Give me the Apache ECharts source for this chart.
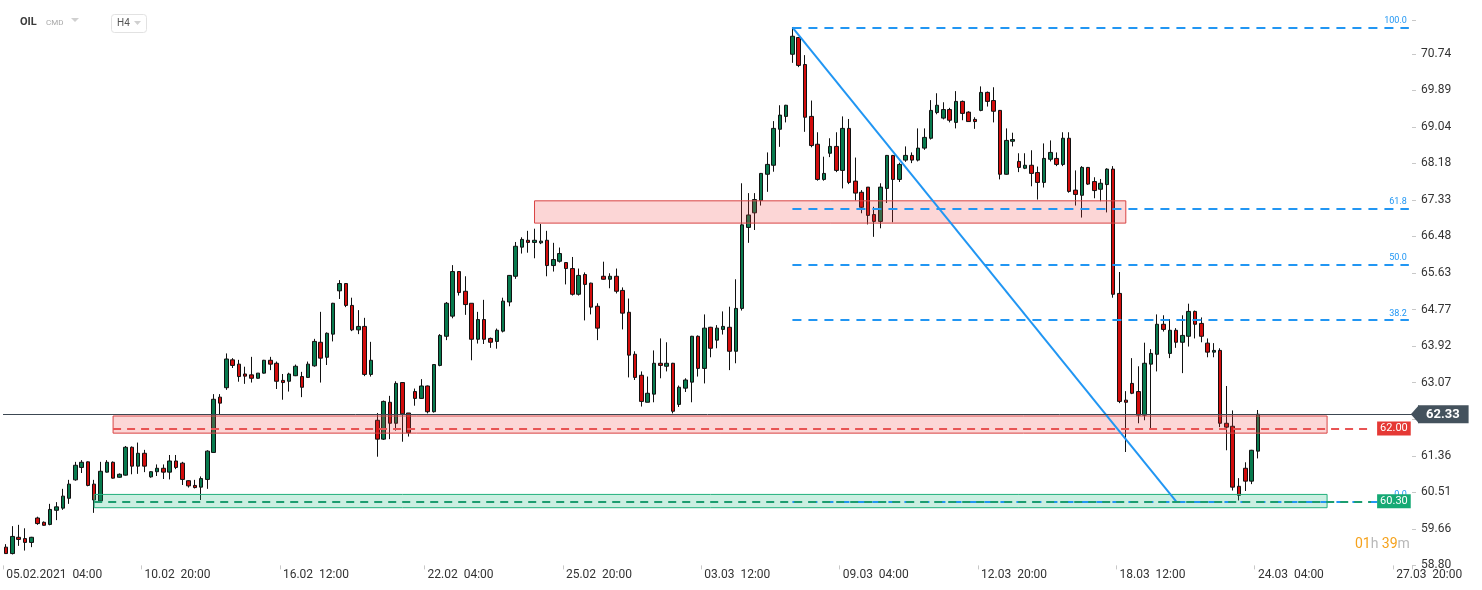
<!DOCTYPE html>
<html>
<head>
<meta charset="utf-8">
<title>OIL H4</title>
<script src="https://cdn.jsdelivr.net/npm/echarts@6/dist/echarts.min.js"></script>
<style>
  html, body { margin: 0; padding: 0; background: #fff; }
  #chart { width: 1482px; height: 590px; }
</style>
</head>
<body>
<div id="chart"></div>
<script>
// H4 candles, 05.02.2021 04:00 .. 24.03.2021 04:00
const opens = [
  59.23, 59.08, 59.46, 59.43, 59.34, 59.91, 59.81, 59.76, 60.09, 60.14,
  60.37, 60.80, 61.09, 61.22, 60.70, 60.31, 60.98, 61.21, 60.86, 60.91,
  61.56, 61.12, 61.42, 60.87, 60.99, 61.07, 60.98, 61.24, 61.19, 60.78,
  60.67, 60.63, 60.81, 61.44, 62.73, 62.95, 63.60, 63.50, 63.27, 63.25,
  63.17, 63.29, 63.59, 63.52, 63.12, 63.10, 63.23, 63.21, 63.19, 63.46,
  64.01, 63.66, 64.20, 65.21, 65.38, 64.87, 64.30, 64.38, 63.26, 62.19,
  61.75, 62.61, 62.12, 63.07, 62.36, 62.86, 62.70, 62.99, 62.39, 63.47,
  64.15, 64.62, 65.66, 65.20, 64.92, 64.08, 64.54, 64.10, 64.03, 64.27,
  64.95, 65.55, 66.23, 66.39, 66.34, 66.33, 66.39, 65.80, 65.90, 65.87,
  65.73, 65.13, 65.59, 65.39, 64.85, 65.55, 65.48, 65.55, 65.22, 64.71,
  63.73, 63.24, 62.61, 62.80, 63.52, 63.45, 63.52, 62.56, 62.94, 63.08,
  64.15, 63.40, 64.36, 64.06, 64.31, 64.36, 63.80, 64.80, 66.69, 67.03,
  67.32, 67.93, 68.14, 68.98, 69.28, 70.73, 71.12, 70.49, 69.28, 68.63,
  67.81, 68.42, 68.58, 68.02, 69.00, 67.77, 67.51, 67.63, 66.99, 66.83,
  67.60, 68.37, 67.81, 68.26, 68.37, 68.26, 68.54, 68.77, 69.37, 69.24,
  69.44, 69.14, 69.63, 69.38, 69.21, 69.42, 69.84, 69.65, 69.42, 67.93,
  68.70, 68.23, 68.07, 68.14, 67.97, 67.74, 68.28, 68.30, 68.16, 68.77,
  67.56, 67.44, 68.09, 67.76, 67.58, 67.69, 68.05, 65.15, 62.66, 63.05,
  62.86, 62.31, 63.50, 63.73, 64.43, 63.75, 64.29, 64.01, 64.15, 64.73,
  64.45, 63.99, 63.78, 63.82, 62.12, 62.05, 60.65, 61.07, 60.77, 61.47
];
const closes = [
  59.08, 59.48, 59.41, 59.34, 59.46, 59.78, 59.74, 60.11, 60.17, 60.42,
  60.70, 61.14, 61.21, 60.67, 60.33, 61.00, 61.21, 60.84, 60.93, 61.56,
  61.12, 61.42, 61.12, 60.99, 61.07, 60.98, 61.24, 61.09, 60.81, 60.66,
  60.62, 60.83, 61.47, 62.68, 62.59, 63.62, 63.47, 63.21, 63.22, 63.17,
  63.29, 63.59, 63.50, 63.10, 63.07, 63.27, 63.45, 62.96, 63.50, 64.03,
  63.64, 64.22, 64.92, 65.38, 64.87, 64.30, 64.38, 63.26, 63.59, 61.75,
  62.63, 62.12, 63.05, 62.34, 61.90, 62.70, 62.99, 62.39, 63.49, 64.17,
  64.92, 65.66, 65.17, 64.89, 64.08, 64.54, 64.08, 64.01, 64.29, 64.97,
  65.57, 66.25, 66.41, 66.34, 66.39, 66.37, 65.80, 65.94, 66.08, 65.73,
  65.13, 65.57, 65.36, 64.83, 64.34, 65.48, 65.55, 65.20, 64.69, 63.71,
  63.19, 62.63, 62.82, 63.52, 63.47, 63.52, 62.40, 62.96, 63.13, 64.15,
  63.40, 64.34, 63.87, 64.34, 64.38, 63.80, 64.80, 66.75, 66.98, 67.34,
  67.95, 68.16, 69.00, 69.31, 69.54, 71.15, 70.47, 69.26, 68.60, 67.81,
  67.95, 68.58, 68.02, 69.00, 67.74, 67.49, 67.16, 66.97, 66.83, 67.63,
  68.37, 67.81, 68.16, 68.37, 68.26, 68.54, 68.79, 69.42, 69.54, 69.44,
  69.19, 69.63, 69.35, 69.16, 69.16, 69.84, 69.63, 69.40, 67.93, 68.72,
  68.74, 68.09, 68.14, 67.95, 67.74, 68.30, 68.44, 68.16, 68.77, 67.53,
  67.46, 68.09, 67.70, 67.55, 67.72, 68.05, 65.13, 62.63, 62.61, 62.82,
  62.31, 63.52, 63.75, 64.43, 64.31, 64.29, 64.01, 64.17, 64.73, 64.43,
  64.15, 63.78, 63.82, 62.12, 62.03, 60.63, 60.44, 60.77, 61.49, 62.33
];
const lows = [
  59.08, 59.06, 59.26, 59.15, 59.23, 59.75, 59.73, 59.74, 59.86, 60.10,
  60.24, 60.78, 60.96, 60.65, 60.03, 60.30, 60.97, 60.83, 60.85, 60.90,
  60.93, 60.94, 60.98, 60.85, 60.89, 60.82, 60.81, 61.05, 60.68, 60.62,
  60.60, 60.33, 60.59, 61.44, 62.32, 62.90, 63.41, 63.09, 63.04, 63.07,
  63.16, 63.28, 63.36, 62.92, 62.67, 62.86, 63.22, 62.73, 63.18, 63.44,
  63.07, 63.48, 64.03, 65.02, 64.83, 64.27, 64.20, 63.22, 63.21, 61.34,
  61.73, 61.75, 61.95, 61.69, 61.81, 62.53, 62.69, 62.35, 62.37, 63.45,
  64.06, 64.57, 65.10, 64.65, 63.59, 63.98, 63.97, 63.88, 63.86, 64.24,
  64.85, 65.49, 66.08, 66.10, 65.97, 66.30, 65.55, 65.66, 65.87, 65.36,
  65.10, 65.10, 64.52, 64.66, 64.06, 65.47, 65.27, 65.15, 64.31, 63.19,
  63.13, 62.51, 62.61, 62.61, 63.17, 63.33, 62.35, 62.50, 62.85, 62.61,
  63.21, 63.05, 63.66, 63.87, 64.19, 63.36, 63.52, 64.75, 66.33, 66.63,
  67.20, 67.52, 67.99, 68.57, 69.14, 70.53, 70.43, 68.92, 68.56, 67.78,
  67.78, 68.33, 67.98, 67.60, 67.70, 67.32, 67.02, 66.76, 66.47, 66.67,
  67.26, 66.81, 67.75, 68.22, 68.19, 68.23, 68.50, 68.74, 69.33, 69.21,
  69.14, 69.00, 69.19, 69.16, 68.99, 69.40, 69.51, 69.14, 67.81, 67.92,
  68.58, 67.98, 68.05, 67.65, 67.34, 67.62, 68.23, 68.12, 68.12, 67.50,
  67.20, 66.92, 67.68, 67.37, 67.30, 67.04, 65.05, 62.59, 61.45, 62.80,
  62.12, 62.19, 61.98, 63.33, 64.26, 63.64, 63.88, 63.29, 63.91, 64.10,
  64.01, 63.66, 63.66, 62.03, 61.49, 60.55, 60.32, 60.54, 60.70, 61.30
];
const highs = [
  59.30, 59.72, 59.75, 59.67, 59.47, 59.94, 59.83, 60.24, 60.28, 60.59,
  60.80, 61.22, 61.26, 61.23, 60.80, 61.22, 61.26, 61.23, 60.95, 61.59,
  61.58, 61.67, 61.50, 61.00, 61.16, 61.16, 61.38, 61.38, 61.22, 60.79,
  60.80, 60.88, 61.49, 62.80, 62.80, 63.75, 63.64, 63.60, 63.44, 63.67,
  63.29, 63.60, 63.67, 63.56, 63.27, 63.30, 63.49, 63.32, 63.56, 64.09,
  64.72, 64.24, 64.93, 65.46, 65.39, 65.05, 64.76, 64.58, 64.02, 62.36,
  62.65, 62.76, 63.10, 63.08, 62.36, 62.93, 63.15, 63.00, 63.50, 64.20,
  64.95, 65.81, 65.67, 65.55, 64.92, 64.72, 65.00, 64.12, 64.33, 65.05,
  65.58, 66.35, 66.46, 66.61, 66.66, 66.77, 66.61, 66.33, 66.22, 65.87,
  66.00, 65.73, 65.64, 65.40, 64.92, 65.89, 65.62, 65.73, 65.29, 65.03,
  63.80, 63.33, 63.21, 63.82, 64.10, 64.01, 63.53, 63.00, 63.17, 64.16,
  64.17, 64.66, 64.37, 64.41, 64.73, 64.84, 65.48, 67.72, 67.49, 67.49,
  67.96, 68.44, 69.17, 69.54, 69.55, 71.36, 71.13, 70.71, 69.65, 68.91,
  68.34, 68.77, 68.91, 69.28, 69.22, 68.32, 67.56, 67.63, 67.17, 67.72,
  68.38, 68.38, 68.20, 68.58, 68.44, 69.00, 69.00, 69.66, 69.82, 69.61,
  69.48, 69.87, 69.65, 69.40, 69.26, 69.98, 69.86, 69.96, 69.43, 69.00,
  68.90, 68.42, 68.42, 68.49, 68.11, 68.65, 68.72, 68.44, 68.91, 68.91,
  68.02, 68.12, 68.10, 67.86, 67.82, 68.07, 68.12, 65.65, 62.87, 63.64,
  63.45, 64.00, 63.85, 64.66, 64.64, 64.55, 64.34, 64.64, 64.91, 64.75,
  64.59, 64.10, 63.99, 63.87, 62.99, 62.42, 60.84, 61.21, 61.50, 62.43
];

// x axis: candle slots (incl. empty future ones) and the labelled slots
const slotCount = 224;
const tickIdx = [0, 22, 44, 67, 89, 111, 133, 155, 177, 199, 221];
const tickLabels = ['05.02.2021  04:00', '10.02  20:00', '16.02  12:00', '22.02  04:00', '25.02  20:00',
  '03.03  12:00', '09.03  04:00', '12.03  20:00', '18.03  12:00', '24.03  04:00', '27.03  20:00'];

// y axis scale as shown by the platform
const yMin = 58.804, yMax = 71.52, yStep = 0.8527;

// drawings: zones [fromSlot, toSlot, top, bottom]
const upperZone = [84, 178, 67.31, 66.79];
const midZone = [17, 210, 62.29, 61.89];
const lowZone = [14, 210, 60.46, 60.15];
const midLevel = 62.00;
const lowLevel = 60.30;
const lastPrice = 62.33;
const fibNames = ['100.0', '61.8', '50.0', '38.2', '0.0'];
const fibPrices = [71.36, 67.13, 65.83, 64.53, 60.30];
const fibSlots = [125, 223];
const trendFrom = [125, 71.36];
const trendTo = [186, 60.30];

const chart = echarts.init(document.getElementById('chart'));

const slots = Array.from({ length: slotCount }, (_, i) => String(i));
const candles = opens.map((o, i) => [o, closes[i], lows[i], highs[i]]);

const FIB_BLUE = '#2196f3';

function zone(z, fill, stroke) {
  return [
    { xAxis: z[0], yAxis: z[2], itemStyle: { color: fill, borderColor: stroke, borderWidth: 1 } },
    { xAxis: z[1], yAxis: z[3] }
  ];
}

function boxLabel(text, bg) {
  return {
    show: true, position: 'end', distance: 6, formatter: text,
    backgroundColor: bg, color: '#fff', fontSize: 11, padding: [2, 3, 1, 3]
  };
}

const fibLines = fibPrices.map((p, k) => [
  {
    coord: [fibSlots[0], p],
    lineStyle: { color: FIB_BLUE, width: 2, type: [9, 7] },
    label: {
      show: true, position: 'insideEndTop', formatter: fibNames[k],
      color: FIB_BLUE, fontSize: 9, distance: 2
    }
  },
  { coord: [fibSlots[1], p] }
]);

const option = {
  animation: false,
  backgroundColor: '#fff',
  textStyle: { fontFamily: 'Roboto, sans-serif' },
  grid: { left: 3, right: 70, top: 20.4, bottom: 24.6 },
  xAxis: {
    type: 'category',
    data: slots,
    boundaryGap: true,
    axisLine: { show: false },
    splitLine: { show: false },
    axisTick: {
      show: true, length: 4,
      interval: (i) => tickIdx.includes(i),
      lineStyle: { color: '#c8c8c8' }
    },
    axisLabel: {
      interval: (i) => tickIdx.includes(i),
      formatter: (v, i) => tickLabels[tickIdx.indexOf(Number(v))] || '',
      align: 'left', margin: 4, color: '#333', fontSize: 12
    }
  },
  yAxis: {
    type: 'value',
    position: 'right',
    min: yMin, max: yMax, interval: yStep,
    scale: true,
    splitLine: { show: false },
    axisLine: { show: false },
    axisTick: { show: true, length: 4, lineStyle: { color: '#c8c8c8' } },
    axisLabel: {
      margin: 9, color: '#333', fontSize: 12,
      formatter: (v) => {
        const k = (v - yMin) / yStep;
        if (Math.abs(k - Math.round(k)) > 0.02) return '';
        if (Math.abs(v - lastPrice) < 0.3) return ''; // hidden under price tag
        return v.toFixed(2);
      }
    }
  },
  graphic: [
    { type: 'text', left: 20, top: 17, style: { text: 'OIL', font: 'bold 11px Roboto', fill: '#3b3b3b' } },
    { type: 'text', left: 46, top: 19, style: { text: 'CMD', font: '8px Roboto', fill: '#a8a8a8' } },
    { type: 'polygon', shape: { points: [[71, 18], [79, 18], [75, 22]] }, style: { fill: '#d0d0d0' } },
    { type: 'rect', shape: { x: 111.5, y: 14.5, width: 35, height: 18, r: 3 }, style: { fill: '#fff', stroke: '#e2e2e2' } },
    { type: 'text', left: 117, top: 18, style: { text: 'H4', font: '10px Roboto', fill: '#555' } },
    { type: 'polygon', shape: { points: [[134, 21], [141, 21], [137.5, 25]] }, style: { fill: '#d0d0d0' } },
    {
      type: 'text', left: 1355, top: 537,
      style: {
        text: '{o|01}{g|h} {o|39}{g|m}',
        rich: {
          o: { fontSize: 14, fontFamily: 'Roboto', fill: '#f5a21c', color: '#f5a21c' },
          g: { fontSize: 14, fontFamily: 'Roboto', fill: '#b8b8b8', color: '#b8b8b8' }
        }
      }
    }
  ],
  series: [
    {
      name: 'OIL',
      type: 'candlestick',
      data: candles,
      barWidth: 4,
      z: 2,
      itemStyle: {
        color: '#087a4e', color0: '#d20c0c',
        borderColor: '#111', borderColor0: '#111', borderWidth: 1
      }
    },
    {
      name: 'drawings',
      type: 'line',
      data: [],
      silent: true,
      markArea: {
        z: 4, silent: true,
        data: [
          zone(upperZone, 'rgba(240,60,60,0.21)', '#d94444'),
          zone(midZone, 'rgba(240,60,60,0.21)', '#d94444'),
          zone(lowZone, 'rgba(20,180,120,0.22)', '#22b07d')
        ]
      },
      markLine: {
        z: 6, silent: true,
        symbol: ['none', 'none'],
        label: { show: false },
        data: [
          ...fibLines,
          [
            { coord: trendFrom, lineStyle: { color: FIB_BLUE, width: 2, type: 'solid' }, label: { show: false } },
            { coord: trendTo }
          ],
          [
            { coord: [midZone[0], midLevel], lineStyle: { color: '#e85454', width: 2, type: [8, 6] }, label: boxLabel('62.00', '#e53935') },
            { coord: [217, midLevel] }
          ],
          [
            { coord: [lowZone[0], lowLevel], lineStyle: { color: '#1c9d6f', width: 2, type: [8, 6] }, label: boxLabel('60.30', '#15a974') },
            { coord: [217, lowLevel] }
          ],
          {
            yAxis: lastPrice,
            lineStyle: { color: '#3c4852', width: 1, type: 'solid' },
            label: {
              show: true, position: 'end', distance: 6, formatter: '62.33',
              backgroundColor: '#44525d', color: '#fff', fontSize: 13, fontWeight: 'bold',
              padding: [3, 9, 2, 8]
            }
          }
        ]
      },
      markPoint: {
        z: 7, silent: true,
        symbol: 'triangle', symbolSize: [18, 8], symbolRotate: 90, symbolOffset: [6, 0],
        itemStyle: { color: '#44525d' },
        label: { show: false },
        data: [{ coord: [223, lastPrice] }]
      }
    }
  ]
};

chart.setOption(option);
</script>
</body>
</html>
